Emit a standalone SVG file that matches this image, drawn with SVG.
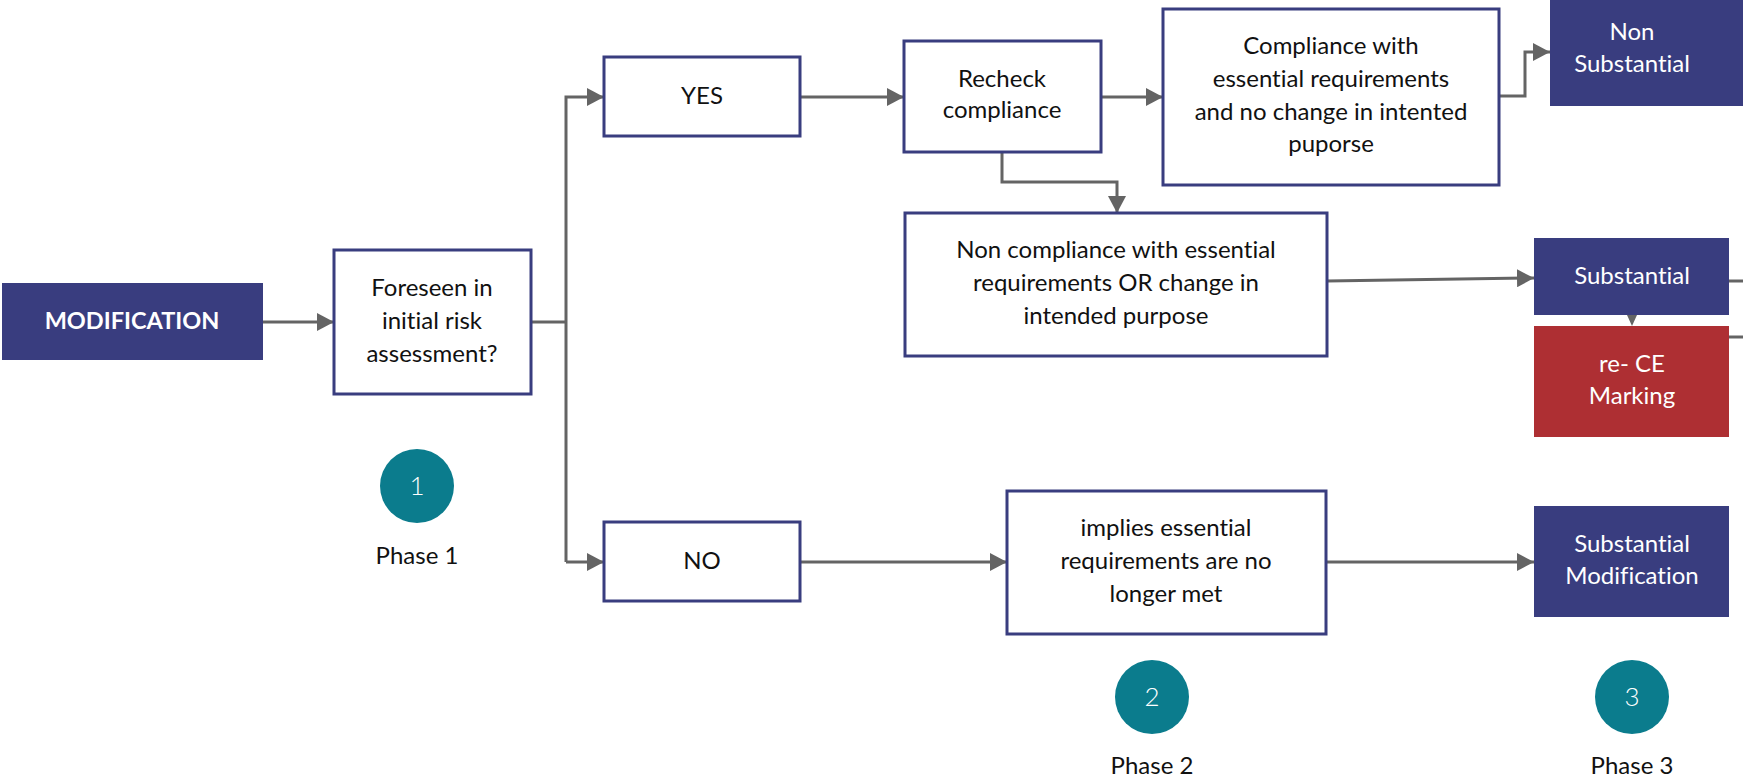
<svg xmlns="http://www.w3.org/2000/svg" width="1743" height="779" viewBox="0 0 1743 779">
  <style>
    .bg { fill: #ffffff; }
    .box { fill: #ffffff; stroke: #393d7f; stroke-width: 3; }
    .solid { fill: #393d7f; }
    .red { fill: #ae2f33; }
    .t { font-family: Lato, "Liberation Sans", sans-serif; font-size: 24px; fill: #111111; text-anchor: middle; font-variant-ligatures: none; }
    .w { fill: #ffffff; }
    .b { font-weight: bold; font-size: 23.5px; }
    .num { font-size: 26px; font-weight: 300; }
    .phase { fill: #0b7c8d; }
    .conn { fill: none; stroke: #646464; stroke-width: 3; }
    .head { fill: #646464; }
  </style>
  <defs>
    <marker id="arrow" viewBox="0 0 17 18" refX="17" refY="9" markerWidth="17" markerHeight="18" markerUnits="userSpaceOnUse" orient="auto">
      <path class="head" d="M0,0 L17,9 L0,18 Z"/>
    </marker>
  </defs>
  <rect class="bg" x="0" y="0" width="1743" height="779"/>

  <!-- connectors -->
  <g id="connectors">
    <path class="conn" d="M263,322 H334" marker-end="url(#arrow)"/>
    <path class="conn" d="M531,322 H566"/>
    <path class="conn" d="M566,562 V97 H604" marker-end="url(#arrow)"/>
    <path class="conn" d="M566,562 H604" marker-end="url(#arrow)"/>
    <path class="conn" d="M800,97 H904" marker-end="url(#arrow)"/>
    <path class="conn" d="M1101,97 H1163" marker-end="url(#arrow)"/>
    <path class="conn" d="M1499,96 H1525 V52 H1550" marker-end="url(#arrow)"/>
    <path class="conn" d="M1002,152 V182 H1117 V213" marker-end="url(#arrow)"/>
    <path class="conn" d="M1327,281 L1534,278" marker-end="url(#arrow)"/>
    <polygon class="head" points="1627,315 1637,315 1632,326"/>
    <path class="conn" d="M1729,281 H1743"/>
    <path class="conn" d="M1729,337 H1743"/>
    <path class="conn" d="M800,562 H1007" marker-end="url(#arrow)"/>
    <path class="conn" d="M1326,562 H1534" marker-end="url(#arrow)"/>
  </g>

  <g id="modification">
    <rect class="solid" x="2" y="283" width="261" height="77"/>
    <text class="t w b" x="132" y="329">MODIFICATION</text>
  </g>

  <g id="foreseen">
    <rect class="box" x="334" y="250" width="197" height="144"/>
    <text class="t" x="432" y="296">Foreseen in</text>
    <text class="t" x="432" y="329">initial risk</text>
    <text class="t" x="432" y="362">assessment?</text>
  </g>

  <g id="yes">
    <rect class="box" x="604" y="57" width="196" height="79"/>
    <text class="t" x="702" y="104">YES</text>
  </g>

  <g id="recheck">
    <rect class="box" x="904" y="41" width="197" height="111"/>
    <text class="t" x="1002" y="87">Recheck</text>
    <text class="t" x="1002" y="118">compliance</text>
  </g>

  <g id="compliance">
    <rect class="box" x="1163" y="9" width="336" height="176"/>
    <text class="t" x="1331" y="54">Compliance with</text>
    <text class="t" x="1331" y="87">essential requirements</text>
    <text class="t" x="1331" y="120">and no change in intented</text>
    <text class="t" x="1331" y="152">puporse</text>
  </g>

  <g id="non-substantial">
    <rect class="solid" x="1550" y="-5" width="200" height="111"/>
    <text class="t w" x="1632" y="40">Non</text>
    <text class="t w" x="1632" y="72">Substantial</text>
  </g>

  <g id="non-compliance">
    <rect class="box" x="905" y="213" width="422" height="143"/>
    <text class="t" x="1116" y="258">Non compliance with essential</text>
    <text class="t" x="1116" y="291">requirements OR change in</text>
    <text class="t" x="1116" y="324">intended purpose</text>
  </g>

  <g id="substantial">
    <rect class="solid" x="1534" y="238" width="195" height="77"/>
    <text class="t w" x="1632" y="284">Substantial</text>
  </g>

  <g id="re-ce-marking">
    <rect class="red" x="1534" y="326" width="195" height="111"/>
    <text class="t w" x="1632" y="372">re- CE</text>
    <text class="t w" x="1632" y="404">Marking</text>
  </g>

  <g id="no">
    <rect class="box" x="604" y="522" width="196" height="79"/>
    <text class="t" x="702" y="569">NO</text>
  </g>

  <g id="implies">
    <rect class="box" x="1007" y="491" width="319" height="143"/>
    <text class="t" x="1166" y="536">implies essential</text>
    <text class="t" x="1166" y="569">requirements are no</text>
    <text class="t" x="1166" y="602">longer met</text>
  </g>

  <g id="substantial-modification">
    <rect class="solid" x="1534" y="506" width="195" height="111"/>
    <text class="t w" x="1632" y="552">Substantial</text>
    <text class="t w" x="1632" y="584">Modification</text>
  </g>

  <g id="phase-1">
    <circle class="phase" cx="417" cy="486" r="37"/>
    <text class="t w num" x="417" y="495">1</text>
    <text class="t" x="417" y="564">Phase 1</text>
  </g>

  <g id="phase-2">
    <circle class="phase" cx="1152" cy="697" r="37"/>
    <text class="t w num" x="1152" y="706">2</text>
    <text class="t" x="1152" y="774">Phase 2</text>
  </g>

  <g id="phase-3">
    <circle class="phase" cx="1632" cy="697" r="37"/>
    <text class="t w num" x="1632" y="706">3</text>
    <text class="t" x="1632" y="774">Phase 3</text>
  </g>
</svg>
